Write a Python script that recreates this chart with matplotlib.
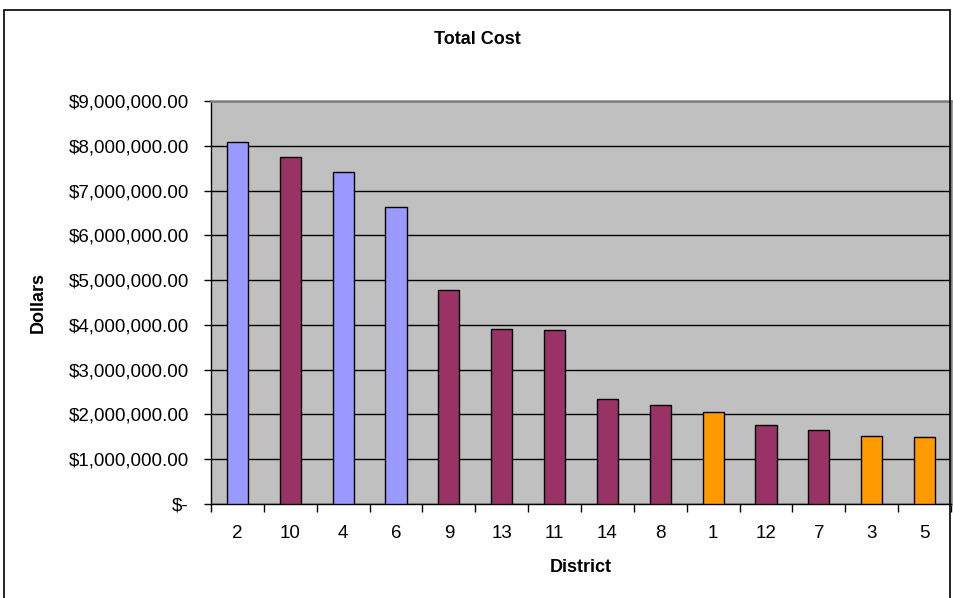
import matplotlib.pyplot as plt
import numpy as np
from matplotlib.patches import Rectangle
from matplotlib.ticker import FuncFormatter

# District totals, sorted by cost
districts = ['2', '10', '4', '6', '9', '13', '11', '14', '8', '1', '12', '7', '3', '5']
total_cost = [8090000, 7750000, 7420000, 6640000, 4790000, 3910000, 3880000,
              2340000, 2210000, 2060000, 1760000, 1660000, 1520000, 1500000]
groups = ['a', 'b', 'a', 'a', 'b', 'b', 'b', 'b', 'b', 'c', 'b', 'b', 'c', 'c']
group_colors = {'a': '#9999FF', 'b': '#993366', 'c': '#FF9900'}

plt.rcParams['font.family'] = ['Liberation Sans', 'DejaVu Sans']

W, H = 954, 598
fig = plt.figure(figsize=(W / 100, H / 100), dpi=100)
ax = fig.add_axes([211 / W, 1 - 504 / H, 740 / W, 403 / H])

# chart border
fig.patches.append(Rectangle((4 / W, -0.01), 946 / W, 1 - 10 / H + 0.01,
                             transform=fig.transFigure, fill=False,
                             edgecolor='black', linewidth=1.2))

x = np.arange(len(districts))
colors = [group_colors[g] for g in groups]
ax.set_facecolor('#C0C0C0')
ax.set_axisbelow(True)
ax.yaxis.grid(True, color='black', linewidth=1.0)
ax.bar(x, total_cost, width=0.4, color=colors, edgecolor='black', linewidth=1.0, zorder=3)

ax.set_xlim(-0.5, len(districts) - 0.5)
ax.set_ylim(0, 9000000)
ax.set_yticks(np.arange(0, 9000001, 1000000))


def dollars(v, pos):
    if v == 0:
        return '$-'
    return '${:,.2f}'.format(v)


ax.yaxis.set_major_formatter(FuncFormatter(dollars))
ax.tick_params(axis='y', length=5, width=1, labelsize=13.5, pad=11, direction='out')

# category labels centred, tick marks between categories
ax.set_xticks(np.arange(-0.5, len(districts), 1.0))
ax.set_xticklabels([])
ax.set_xticks(x, minor=True)
ax.set_xticklabels(districts, minor=True)
ax.tick_params(axis='x', which='major', length=6, width=1, direction='out')
ax.tick_params(axis='x', which='minor', length=0, labelsize=13.5, pad=15)

for side in ['left', 'bottom']:
    ax.spines[side].set_color('black')
    ax.spines[side].set_linewidth(1.0)
for side in ['top', 'right']:
    ax.spines[side].set_color('#808080')
    ax.spines[side].set_linewidth(1.8)

ax.set_xlabel('District', fontsize=13, fontweight='bold')
ax.set_ylabel('Dollars', fontsize=13, fontweight='bold')
ax.xaxis.set_label_coords(0.5, -(567 - 504) / 403, transform=ax.transAxes)
ax.yaxis.set_label_coords(-(211 - 38) / 740, 0.5, transform=ax.transAxes)
ax.xaxis.label.set_va('center')
ax.yaxis.label.set_va('center')
fig.text(0.5, 1 - 40 / H, 'Total Cost', ha='center', va='center',
         fontsize=13, fontweight='bold')

fig.savefig('out.png', dpi=100)
